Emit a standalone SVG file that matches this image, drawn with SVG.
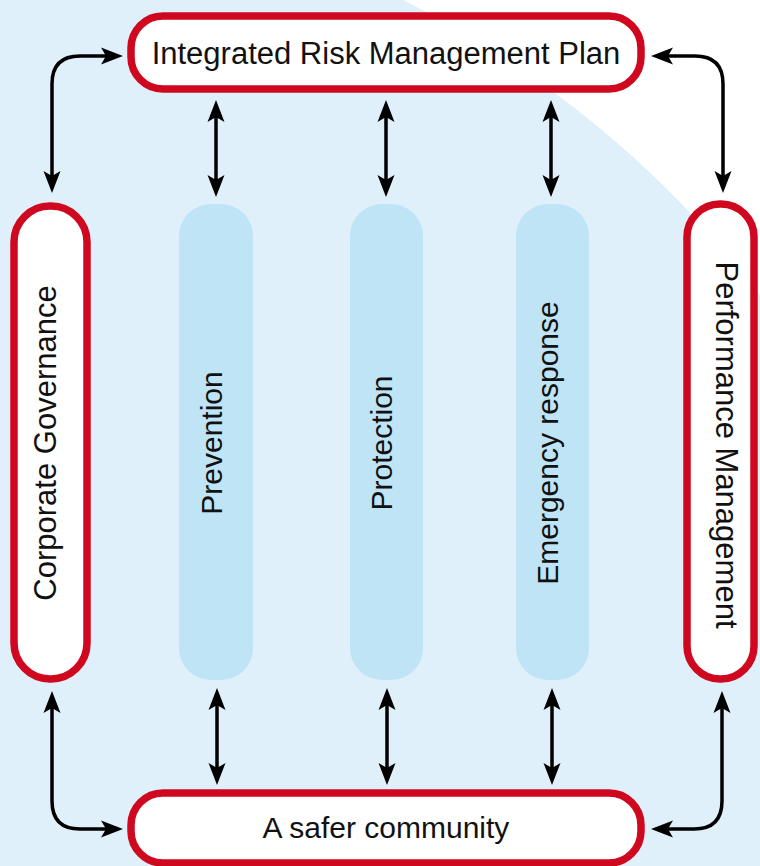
<svg xmlns="http://www.w3.org/2000/svg" width="760" height="866" viewBox="0 0 760 866">
  <style>
    .red { fill: #ffffff; stroke: #d0081f; stroke-width: 7.5; }
    .col { fill: #bee4f6; }
    .lbl { font-family: "Liberation Sans", Arial, sans-serif; font-size: 30px; fill: #111111; text-anchor: middle; }
    .con { fill: none; stroke: #000000; stroke-width: 3.5; marker-start: url(#ah); marker-end: url(#ah); }
  </style>
  <defs>
    <marker id="ah" markerUnits="userSpaceOnUse" viewBox="-9 -9 24 18" markerWidth="24" markerHeight="18" refX="0" refY="0" orient="auto-start-reverse">
      <path d="M14,0 L-8,-8.5 L-3,0 L-8,8.5 Z" fill="#000000"/>
    </marker>
  </defs>

  <rect x="0" y="0" width="760" height="866" fill="#dff0fa"/>
  <path d="M403 0 L760 0 L760 295 A1026 1026 0 0 0 403 0 Z" fill="#ffffff"/>

  <g id="connectors">
    <path class="con" d="M216 114 L216 183"/>
    <path class="con" d="M386 114 L386 183"/>
    <path class="con" d="M551 114 L551 183"/>
    <path class="con" d="M217 702 L217 771"/>
    <path class="con" d="M387 702 L387 771"/>
    <path class="con" d="M552 702 L552 771"/>
    <path class="con" d="M109 56 L80 56 Q52 56 52 84 L52 179"/>
    <path class="con" d="M665 56 L695 56 Q723 56 723 84 L723 179"/>
    <path class="con" d="M52 705 L52 801 Q52 829 80 829 L109 829"/>
    <path class="con" d="M722 705 L722 801 Q722 829 694 829 L665 829"/>
  </g>

  <g id="irmp">
    <rect class="red" x="131" y="16" width="510" height="73" rx="32"/>
    <text class="lbl" x="386" y="64" style="font-size:31px">Integrated Risk Management Plan</text>
  </g>
  <g id="safer">
    <rect class="red" x="131" y="793" width="510" height="70" rx="32"/>
    <text class="lbl" x="386" y="838">A safer community</text>
  </g>
  <g id="governance">
    <rect class="red" x="14" y="206" width="73" height="473" rx="36"/>
    <text class="lbl" transform="translate(56,443) rotate(-90)" style="font-size:31px">Corporate Governance</text>
  </g>
  <g id="performance">
    <rect class="red" x="687" y="204" width="67" height="475" rx="33"/>
    <text class="lbl" transform="translate(716,445) rotate(90)" style="font-size:31px">Performance Management</text>
  </g>
  <g id="prevention">
    <rect class="col" x="179" y="204" width="74" height="476" rx="32"/>
    <text class="lbl" transform="translate(222,443) rotate(-90)">Prevention</text>
  </g>
  <g id="protection">
    <rect class="col" x="350" y="204" width="73" height="476" rx="32"/>
    <text class="lbl" transform="translate(392,443) rotate(-90)">Protection</text>
  </g>
  <g id="emergency">
    <rect class="col" x="516" y="204" width="73" height="476" rx="32"/>
    <text class="lbl" transform="translate(558,443) rotate(-90)">Emergency response</text>
  </g>
</svg>
